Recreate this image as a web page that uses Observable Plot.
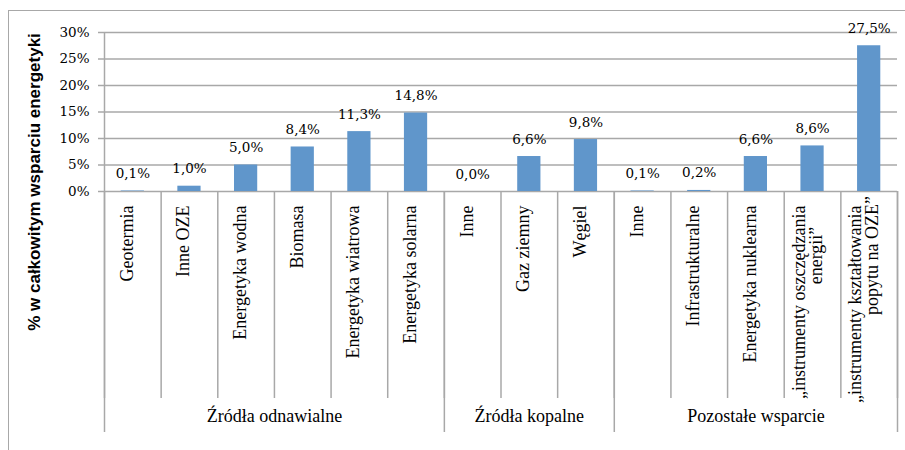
<!DOCTYPE html>
<html>
<head>
<meta charset="utf-8">
<script src="https://cdn.jsdelivr.net/npm/d3@7"></script>
<script src="https://cdn.jsdelivr.net/npm/@observablehq/plot@0.6"></script>
<style>
  html, body { margin: 0; padding: 0; background: #fff; }
  #wrap { position: relative; width: 905px; height: 450px; overflow: hidden; }
  #border { position: absolute; left: 8px; top: 10px; width: 920px; height: 470px;
            border-left: 1.5px solid #a8a8a8; border-top: 1.5px solid #a8a8a8; box-sizing: border-box; }
  #chart { position: absolute; left: 0; top: 0; }
</style>
</head>
<body>
<div id="wrap"><div id="border"></div><div id="chart"></div></div>
<script>
// ---- data ----
const categories = [
  "Geotermia", "Inne OZE", "Energetyka wodna", "Biomasa", "Energetyka wiatrowa", "Energetyka solarna",
  "Inne", "Gaz ziemny", "Węgiel",
  "Inne", "Infrastrukturalne", "Energetyka nuklearna",
  "„instrumenty oszczędzania\nenergii”", "„instrumenty kształtowania\npopytu na OZE”"
];
const values = [0.1, 1.0, 5.0, 8.4, 11.3, 14.8, 0.0, 6.6, 9.8, 0.1, 0.2, 6.6, 8.6, 27.5];
const groupNames = ["Źródła odnawialne", "Źródła kopalne", "Pozostałe wsparcie"];
const groupSizes = [6, 3, 5];
const yTicks = [0, 5, 10, 15, 20, 25, 30];
const yTitle = "% w całkowitym wsparciu energetyki";

// ---- derived tables ----
const rows = categories.map((c, i) => {
  const lines = c.split("\n");
  return {i, name: c, lines, value: values[i],
          label: values[i].toFixed(1).replace(".", ",") + "%"};
});
const single = rows.filter(d => d.lines.length === 1);
const multi = rows.filter(d => d.lines.length > 1);
let acc = 0;
const groups = groupNames.map((g, k) => {
  const start = acc; acc += groupSizes[k];
  return {name: g, start, end: acc};
});
const groupBounds = [0, ...groups.map(g => g.end)];
const catBounds = d3.range(categories.length + 1);

const gray = "#a8a8a8";
const barColor = "#6096cb";
const serif = "Liberation Serif";
const numFont = "DejaVu Serif";
const half = 0.205;

const chart = Plot.plot({
  width: 905,
  height: 450,
  marginLeft: 104,
  marginRight: 8,
  marginTop: 32,
  marginBottom: 259,
  x: {type: "linear", domain: [0, categories.length]},
  y: {type: "linear", domain: [0, 30]},
  style: {background: "transparent", color: "#000"},
  marks: [
    Plot.ruleY(yTicks, {stroke: gray, strokeWidth: 1.5, strokeOpacity: 1}),
    Plot.ruleX([0], {stroke: gray, strokeWidth: 1.5}),
    Plot.axisY({ticks: yTicks, tickFormat: d => d + "%", tickSize: 6, tickPadding: 9,
                stroke: gray, strokeWidth: 1.5, strokeOpacity: 1, label: null,
                fontSize: 13.5, fontFamily: numFont, fill: "#000"}),
    Plot.axisX({ticks: catBounds, tickSize: 207, tickFormat: () => "", label: null,
                stroke: gray, strokeWidth: 1.5, strokeOpacity: 1}),
    Plot.axisX({ticks: groupBounds, tickSize: 241, tickFormat: () => "", label: null,
                stroke: gray, strokeWidth: 1.5, strokeOpacity: 1}),
    Plot.rectY(rows, {x1: d => d.i + 0.5 - half, x2: d => d.i + 0.5 + half,
                      y1: 0, y2: "value", fill: barColor}),
    Plot.text(rows, {x: d => d.i + 0.5, y: "value", text: "label", lineAnchor: "bottom",
                     dy: -13, fontSize: 13.5, fontFamily: numFont, fill: "#000"}),
    // category labels (rotated)
    Plot.text(single, {x: d => d.i + 0.5, text: d => d.lines[0], frameAnchor: "bottom",
                       rotate: -90, textAnchor: "end", dy: 14, fontSize: 18, fontFamily: serif, fill: "#000"}),
    Plot.text(multi, {x: d => d.i + 0.5, text: d => d.lines[0], frameAnchor: "bottom",
                      rotate: -90, textAnchor: "end", dy: 14, dx: -8, fontSize: 18, fontFamily: serif, fill: "#000"}),
    Plot.text(multi, {x: d => d.i + 0.5, text: d => d.lines[1], frameAnchor: "bottom",
                      rotate: -90, textAnchor: "middle", dy: 64, dx: 9, fontSize: 18, fontFamily: serif, fill: "#000"}),
    // group labels
    Plot.text(groups, {x: d => (d.start + d.end) / 2, text: "name", frameAnchor: "bottom",
                       dy: 230, fontSize: 18, fontFamily: serif, fill: "#000"}),
    // y title
    Plot.text([yTitle], {text: d => d, frameAnchor: "left", textAnchor: "middle", rotate: -90,
                         dx: -70, dy: 70, fontSize: 17, fontWeight: "bold",
                         fontFamily: "Liberation Sans", fill: "#000"})
  ]
});
document.getElementById("chart").appendChild(chart);
</script>
</body>
</html>
